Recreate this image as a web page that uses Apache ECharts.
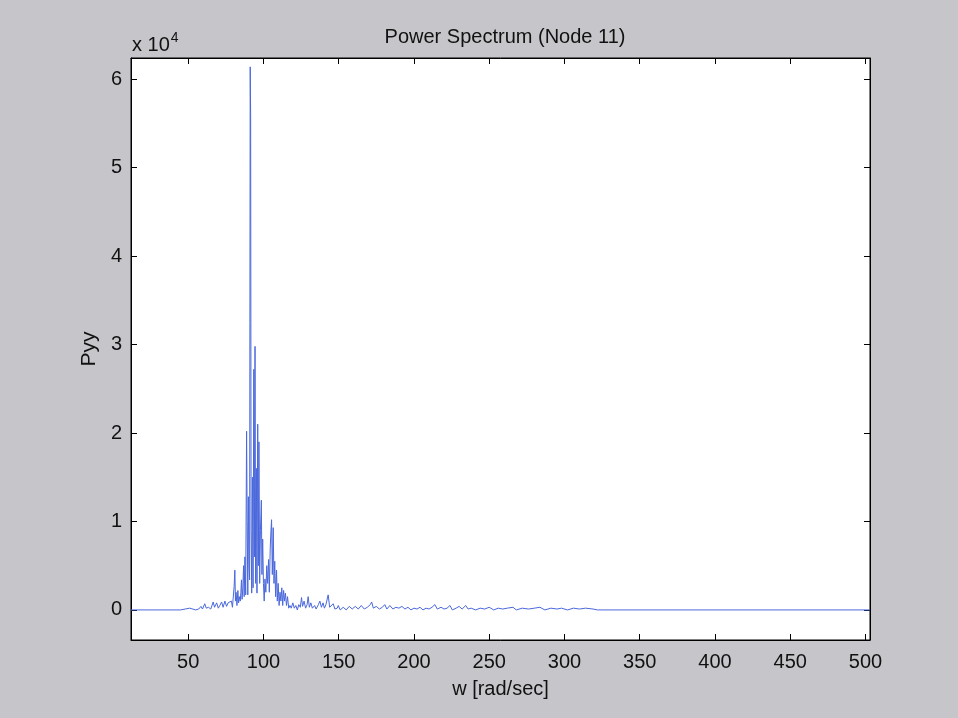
<!DOCTYPE html>
<html>
<head>
<meta charset="utf-8">
<script src="https://cdn.jsdelivr.net/npm/echarts@6/dist/echarts.min.js"></script>
<style>
html,body{margin:0;padding:0;background:#c6c6ca;}
#chart{width:958px;height:718px;}
</style>
</head>
<body>
<div id="chart"></div>
<script>
// Frequency axis values (rad/sec)
const w = [12,45,48,51,52,55,57,58.5,59.5,61,62,63.5,65,66.6,67.5,68.9,70,71,72.2,73.2,74.4,75.5,76.5,77.7,78.7,79.4,
80,80.5,81,81.4,81.8,82.4,83,83.5,84,84.6,85,85.4,85.8,86.3,86.8,87.2,87.7,88.2,88.8,89.2,89.6,90,90.4,90.8,91.2,91.5,91.8,
92.2,92.7,93.1,93.6,94,94.4,94.8,95.3,95.7,96.2,96.6,97,97.5,98,98.6,99,99.5,100,100.5,101,101.6,102.2,102.8,103.4,103.9,
104.5,105,105.4,105.9,106.5,107,107.5,108.1,108.7,109.2,109.8,110.4,111,111.6,112.2,112.8,113.4,114,114.6,115.3,116,116.8,
117.6,118.5,119.5,120.5,121.5,122.5,123.5,124.5,125.3,126,127,128,129,129.7,130.5,131.5,132.5,134,135,136.5,137.5,138.5,
139.6,140.5,141.5,143,144,145.3,146.3,147.5,149,149.7,151,153,155,157,159,161,163,165,167,169,171,171.9,173,175,177,179,
180.6,182,184,186,188,190,192,194,196,198,200,202,204,206,208,210,212,213.9,215.5,218,220,222,223.9,225.5,228,230,232,
234.4,236,238,241,244,247,250,253,256,259,262,265.8,268,272,276,280,283.7,287,291,295,298,302,306,310,314,319,322,503];

// Power spectral density values Pyy
const pyy = [0,0,100,200,0,0,100,400,100,700,200,300,100,900,300,800,200,500,900,300,1000,400,800,600,1000,300,
500,2600,4500,1000,2000,500,2200,800,1500,1000,2000,3400,1200,2500,5000,1500,6000,1700,20200,10000,1700,12800,5000,3400,61400,55800,9000,
1900,15000,2500,27200,6000,29800,3000,16000,1900,21000,5000,19000,3000,9000,12400,4000,8000,3000,1000,3500,2000,5000,3000,5700,2000,
7000,9000,10200,4000,9300,3000,5500,1500,4500,1000,3000,500,2000,1000,2500,500,2200,1000,1900,500,1500,200,
500,200,800,200,500,0,600,300,1400,400,1000,200,600,1500,300,800,200,500,100,600,1000,300,
800,200,600,1700,300,500,700,100,200,500,0,300,0,400,100,400,100,500,100,300,600,900,200,400,100,300,
600,100,500,100,300,200,400,100,300,0,200,100,300,0,200,100,300,600,100,300,100,200,500,0,200,400,100,
500,100,200,0,200,100,300,0,200,100,200,300,0,200,100,200,300,0,200,100,200,0,200,100,200,100,0,0];

// Tick values
const xTicks = [50,100,150,200,250,300,350,400,450,500];
const yTicks = [0,10000,20000,30000,40000,50000,60000];

const xMin = 12, xMax = 503, yMin = -3400, yMax = 62400;

const seriesData = w.map((v, i) => [v, pyy[i]]);

const font = 'Liberation Sans, Arial, sans-serif';
const chart = echarts.init(document.getElementById('chart'), null, {renderer: 'canvas'});

const tickStyle = {show: true, inside: true, length: 6, lineStyle: {color: '#000', width: 1}};

chart.setOption({
  animation: false,
  backgroundColor: '#c6c6ca',
  title: [
    {text: 'Power Spectrum (Node 11)', left: 500, top: 22, textAlign: 'center',
     textStyle: {fontFamily: font, fontSize: 20, fontWeight: 'normal', color: '#111'}},
    {text: '{a|x 10}{s|4}', left: 127, top: 26,
     textStyle: {fontWeight: 'normal', rich: {
       a: {fontFamily: font, fontSize: 20, fontWeight: 'normal', color: '#111', verticalAlign: 'bottom'},
       s: {fontFamily: font, fontSize: 14, fontWeight: 'normal', color: '#111', verticalAlign: 'top', padding: [0,0,10,1]}
     }}}
  ],
  grid: {left: 131, top: 58, right: 88, bottom: 78, show: true, backgroundColor: '#fff',
         borderColor: '#000', borderWidth: 1},
  xAxis: [
    {type: 'value', min: xMin, max: xMax, position: 'bottom',
     name: 'w [rad/sec]', nameLocation: 'middle', nameGap: 39,
     nameTextStyle: {fontFamily: font, fontSize: 20, color: '#111'},
     axisLine: {show: true, onZero: false, lineStyle: {color: '#000'}},
     axisTick: Object.assign({customValues: xTicks}, tickStyle),
     axisLabel: {customValues: xTicks, fontFamily: font, fontSize: 20, color: '#111', margin: 12},
     splitLine: {show: false}},
    {type: 'value', min: xMin, max: xMax, position: 'top',
     axisLine: {show: true, onZero: false, lineStyle: {color: '#000'}},
     axisTick: Object.assign({customValues: xTicks}, tickStyle),
     axisLabel: {show: false}, splitLine: {show: false}}
  ],
  yAxis: [
    {type: 'value', min: yMin, max: yMax, position: 'left',
     name: 'Pyy', nameLocation: 'middle', nameGap: 24, nameRotate: 90,
     nameTextStyle: {fontFamily: font, fontSize: 21, color: '#111'},
     axisLine: {show: true, onZero: false, lineStyle: {color: '#000'}},
     axisTick: Object.assign({customValues: yTicks}, tickStyle),
     axisLabel: {customValues: yTicks, fontFamily: font, fontSize: 20, color: '#111', margin: 9,
       formatter: v => String(Math.round(v / 10000))},
     splitLine: {show: false}},
    {type: 'value', min: yMin, max: yMax, position: 'right',
     axisLine: {show: true, onZero: false, lineStyle: {color: '#000'}},
     axisTick: Object.assign({customValues: yTicks}, tickStyle),
     axisLabel: {show: false}, splitLine: {show: false}}
  ],
  series: [{
    type: 'line', data: seriesData, xAxisIndex: 0, yAxisIndex: 0,
    showSymbol: false, symbol: 'none', sampling: null,
    lineStyle: {color: '#4a68dc', width: 1}
  }]
});
</script>
</body>
</html>
